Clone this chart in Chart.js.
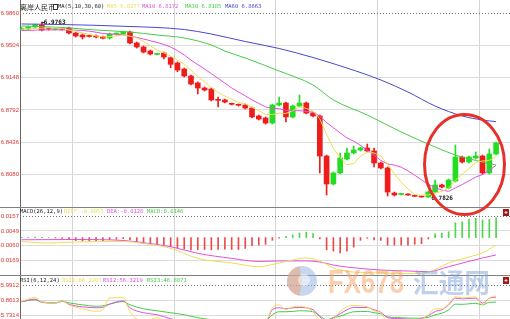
<!DOCTYPE html>
<html><head><meta charset="utf-8">
<script src="https://cdn.jsdelivr.net/npm/chart.js@4/dist/chart.umd.min.js"></script>
<style>html,body{margin:0;padding:0;background:#fff;overflow:hidden}</style>
</head><body>
<canvas id="c" width="510" height="319"></canvas>
<script>
// ---- data ----
const openP  = [6.9682,6.9688,6.9710,6.9732,6.9693,6.9682,6.9688,6.9699,6.9643,6.9621,6.9610,6.9610,6.9602,6.9588,6.9632,6.9632,6.9654,6.9533,6.9489,6.9444,6.9406,6.9422,6.9370,6.9312,6.9245,6.9168,6.9091,6.9035,6.9024,6.8906,6.8903,6.8862,6.8851,6.8847,6.8814,6.8726,6.8704,6.8648,6.8847,6.8869,6.8715,6.8836,6.8869,6.8759,6.8726,6.8283,6.7974,6.8096,6.8250,6.8317,6.8350,6.8372,6.8339,6.8206,6.8151,6.7874,6.7858,6.7863,6.7845,6.7841,6.7830,6.7885,6.7963,6.7930,6.8007,6.8272,6.8217,6.8261,6.8283,6.8096,6.8306];
const highP  = [6.9710,6.9721,6.9743,6.9763,6.9699,6.9693,6.9693,6.9710,6.9649,6.9632,6.9621,6.9621,6.9610,6.9643,6.9643,6.9665,6.9665,6.9544,6.9500,6.9455,6.9417,6.9433,6.9378,6.9323,6.9256,6.9179,6.9102,6.9046,6.9035,6.8936,6.8914,6.8869,6.8858,6.8858,6.8825,6.8737,6.8715,6.8858,6.8936,6.8880,6.8847,6.8958,6.8880,6.8770,6.8737,6.8294,6.8107,6.8317,6.8372,6.8394,6.8383,6.8416,6.8372,6.8217,6.8162,6.7885,6.7869,6.7869,6.7852,6.7847,6.7896,6.8018,6.7974,6.8029,6.8405,6.8283,6.8283,6.8328,6.8294,6.8361,6.8438];
const lowP   = [6.9676,6.9676,6.9699,6.9665,6.9676,6.9676,6.9676,6.9632,6.9599,6.9577,6.9599,6.9588,6.9577,6.9577,6.9621,6.9621,6.9522,6.9477,6.9422,6.9400,6.9400,6.9356,6.9260,6.9215,6.9157,6.9068,6.8969,6.9002,6.8892,6.8825,6.8869,6.8847,6.8836,6.8803,6.8704,6.8681,6.8637,6.8637,6.8836,6.8659,6.8704,6.8825,6.8748,6.8715,6.8096,6.7852,6.7963,6.8084,6.8239,6.8306,6.8339,6.8328,6.8162,6.8140,6.7841,6.7841,6.7852,6.7847,6.7836,6.7828,6.7826,6.7874,6.7930,6.7919,6.7996,6.8206,6.8206,6.8250,6.8084,6.8084,6.8294];
const closeP = [6.9693,6.9710,6.9732,6.9676,6.9688,6.9688,6.9682,6.9643,6.9610,6.9599,6.9605,6.9599,6.9585,6.9632,6.9638,6.9654,6.9533,6.9489,6.9433,6.9411,6.9411,6.9378,6.9297,6.9234,6.9168,6.9079,6.9035,6.9013,6.8903,6.8899,6.8880,6.8855,6.8844,6.8814,6.8715,6.8692,6.8648,6.8847,6.8869,6.8715,6.8836,6.8869,6.8759,6.8726,6.8283,6.7974,6.8096,6.8261,6.8317,6.8350,6.8372,6.8339,6.8206,6.8151,6.7885,6.7852,6.7863,6.7852,6.7838,6.7830,6.7885,6.7963,6.7941,6.8018,6.8272,6.8217,6.8272,6.8283,6.8096,6.8306,6.8427];
const ma5Head  = [6.9685,6.9690,6.9695,6.9697];
const ma10Head = [6.9670,6.9672,6.9675,6.9677,6.9678,6.9678,6.9677,6.9676,6.9674];
const ma30Idx = [0,6,11,16,20,24,28,30,33,38,43,46,51,56,61,64,68,70];
const ma30Val = [6.9721,6.9704,6.9676,6.9654,6.9621,6.9588,6.9511,6.9444,6.9367,6.9223,6.9068,6.8903,6.8737,6.8549,6.8383,6.8294,6.8217,6.8184];
const ma60Idx = [0,6,11,16,20,24,28,33,38,43,48,53,57,61,65,68,70];
const ma60Val = [6.9743,6.9737,6.9728,6.9715,6.9704,6.9682,6.9632,6.9549,6.9472,6.9372,6.9256,6.9124,6.8991,6.8836,6.8726,6.8681,6.8663];
const macdHist = [0.0002,0.0003,0.0004,0.0002,0.0001,-0.0003,-0.0006,-0.0015,-0.0022,-0.0025,-0.0025,-0.0022,-0.0022,-0.0015,-0.0012,-0.0008,-0.0015,-0.0030,-0.0040,-0.0048,-0.0050,-0.0055,-0.0065,-0.0075,-0.0085,-0.0090,-0.0090,-0.0088,-0.0090,-0.0088,-0.0085,-0.0088,-0.0088,-0.0080,-0.0060,-0.0055,-0.0050,-0.0020,-0.0005,0.0010,0.0020,0.0034,0.0040,0.0030,-0.0010,-0.0090,-0.0100,-0.0113,-0.0100,-0.0070,-0.0020,-0.0005,-0.0018,-0.0020,-0.0055,-0.0055,-0.0055,-0.0055,-0.0050,-0.0045,-0.0010,0.0027,0.0034,0.0043,0.0110,0.0117,0.0135,0.0142,0.0130,0.0135,0.0146];
const difIdx = [0,4,8,15,18,22,26,31,35,38,40,42,44,46,49,53,57,60,63,66,68,70];
const difVal = [-0.0030,-0.0040,-0.0032,-0.0029,-0.0043,-0.0079,-0.0153,-0.0187,-0.0214,-0.0187,-0.0165,-0.0150,-0.0172,-0.0224,-0.0254,-0.0261,-0.0265,-0.0254,-0.0187,-0.0143,-0.0113,-0.0055];
const deaIdx = [0,8,15,18,22,26,31,35,38,42,44,46,48,53,57,60,63,68,70];
const deaVal = [-0.0016,-0.0014,-0.0021,-0.0038,-0.0067,-0.0116,-0.0153,-0.0176,-0.0172,-0.0172,-0.0180,-0.0202,-0.0217,-0.0239,-0.0246,-0.0251,-0.0214,-0.0150,-0.0128];
const rsiIdx = [0,2,3,5,6,7,9,11,12,13,15,16,18,20,22,24,26,28,30,33,36,37,38,39,40,41,43,44,45,46,47,48,49,51,52,53,54,56,58,60,61,62,63,64,65,66,67,68,69,70];
const rsi1 = [70.0,73.8,69.5,68.2,70.5,66.5,62.5,60.0,61.5,73.5,73.8,59.5,49.5,53.5,46.5,43.5,44.5,41.5,43.5,45.5,49.5,63.5,66.5,61.5,64.5,65.0,59.5,49.5,41.5,51.5,59.5,64.5,65.8,64.5,60.5,58.5,49.5,49.5,49.5,56.5,62.5,62.5,67.5,74.8,73.5,74.0,74.5,66.5,73.5,75.5];
const rsi2 = [69.5,72.2,69.0,68.2,70.5,67.0,64.5,63.5,64.0,67.2,70.5,63.5,58.5,56.5,52.5,49.5,48.5,46.5,46.5,47.5,49.5,61.5,63.5,62.5,63.5,63.8,61.5,54.5,49.5,53.5,57.5,61.5,63.8,63.8,61.5,59.0,53.5,52.5,51.5,55.5,59.8,61.5,66.5,73.2,72.5,73.0,73.2,68.2,73.2,74.2];
const rsi3 = [69.8,71.5,69.5,68.5,70.0,68.5,66.5,65.0,65.5,67.2,69.8,66.5,62.5,60.5,58.5,56.5,53.5,51.5,49.5,49.5,50.5,56.5,59.5,59.5,59.8,60.5,59.5,55.5,51.5,53.5,55.0,57.5,59.5,59.8,58.5,57.5,54.5,53.5,53.0,53.8,56.5,58.0,61.5,67.2,67.0,67.5,68.0,66.5,69.0,69.2];
const priceTicks = [6.8080,6.8436,6.8792,6.9148,6.9504,6.9860];
const macdTicks  = [-0.0169,-0.0060,0.0049,0.0157];
const rsiTicks   = [55.7314,70.8613,85.9912];
const mainTitle = '离岸人民币';
const maTitle = 'MA(5,10,30,60)';
const maLabels = ['MA5 6.8277','MA10 6.8172','MA30 6.8185','MA60 6.8663'];
const macdTitle = 'MACD(26,12,9)';
const macdLabels = ['DIFF:-0.0055','DEA:-0.0128','MACD:0.0146'];
const rsiTitle = 'RSI(6,12,24)';
const rsiLabels = ['RSI1:66.2207','RSI2:56.3219','RSI3:46.8871'];

// ---- styling ----
const RED='#f01c1c', GREEN='#22dd22';
const C_Y='#eedd55', C_M='#e050e0', C_G='#44cc44', C_B='#4848c8';
const idx = closeP.map((_,i)=>i);
const isUp = i => closeP[i] >= openP[i];
function sma(n, head){ return closeP.map((c,i)=> i < n-1 ? head[i] : closeP.slice(i-n+1,i+1).reduce((a,b)=>a+b,0)/n); }
const ma5 = sma(5, ma5Head), ma10 = sma(10, ma10Head);
const pts = (ix, vals) => ix.map((x,k)=>({x:x, y:vals[k]}));

const lineDs = (label, data, color, axis, smooth) => ({
  type:'line', label, data, yAxisID:axis, borderColor:color, borderWidth:1,
  pointRadius:0, fill:false, order:0, cubicInterpolationMode: smooth ? 'monotone' : 'default', tension:0
});

function fixY(s){ s.width = 20; s.paddingTop = 0; s.paddingBottom = 0; }
const tickFont = {family:'Liberation Sans', size:6};
const gridCol = (top) => (c) => (c.tick && Math.abs(c.tick.value - top) < 1e-9) ? 'rgba(0,0,0,0)' : '#dcdcdc';

const deco = {
  id:'deco',
  afterDraw(chart){
    const ctx = chart.ctx, ca = chart.chartArea;
    const sx = chart.scales.x, sy = chart.scales.y, sm = chart.scales.yMacd, sr = chart.scales.yRsi;
    ctx.save();
    // dotted lines at the top tick of every pane
    ctx.strokeStyle = '#707070'; ctx.lineWidth = 1; ctx.setLineDash([1,2]);
    [[sy, priceTicks[priceTicks.length-1]],[sm, macdTicks[macdTicks.length-1]],[sr, rsiTicks[rsiTicks.length-1]]].forEach(([s,v])=>{
      const yy = Math.round(s.getPixelForValue(v)) + 0.5;
      ctx.beginPath(); ctx.moveTo(ca.left, yy); ctx.lineTo(ca.right, yy); ctx.stroke();
    });
    ctx.setLineDash([]);
    // pane separators
    ctx.strokeStyle = '#808080';
    [sm.top, sr.top].forEach(t=>{ const yy = Math.round(t)+0.5; ctx.beginPath(); ctx.moveTo(0,yy); ctx.lineTo(510,yy); ctx.stroke(); });
    // titles
    ctx.textBaseline = 'middle'; ctx.textAlign = 'left';
    const mono = '5.5px "DejaVu Sans Mono"';
    ctx.fillStyle = '#222'; ctx.font = '7px "Noto Sans CJK SC"';
    ctx.fillText(mainTitle, 20, 7);
    ctx.strokeStyle = '#333'; ctx.strokeRect(53.5, 4.5, 4, 5);
    ctx.font = mono; ctx.fillText(maTitle, 58, 7);
    const maCols = [C_Y, C_M, C_G, C_B], maX = [107,142,185,225];
    maLabels.forEach((t,k)=>{ ctx.fillStyle = maCols[k]; ctx.fillText(t, maX[k], 7); });
    const y1 = (sm.top + sm.getPixelForValue(macdTicks[macdTicks.length-1]))/2;
    ctx.fillStyle = '#222'; ctx.fillText(macdTitle, 20, y1);
    [C_Y, C_M, C_G].forEach((c,k)=>{ ctx.fillStyle = c; ctx.fillText(macdLabels[k], [64,107,147][k], y1); });
    const y2 = (sr.top + sr.getPixelForValue(rsiTicks[rsiTicks.length-1]))/2;
    ctx.fillStyle = '#222'; ctx.fillText(rsiTitle, 20, y2);
    [C_Y, C_M, C_G].forEach((c,k)=>{ ctx.fillStyle = c; ctx.fillText(rsiLabels[k], [62,103,147][k], y2); });
    // high / low markers
    let hi = 0, lo = 0;
    highP.forEach((v,i)=>{ if (v > highP[hi]) hi = i; });
    lowP.forEach((v,i)=>{ if (v < lowP[lo]) lo = i; });
    ctx.font = 'bold 6px "DejaVu Sans Mono"'; ctx.fillStyle = '#111'; ctx.strokeStyle = '#111';
    let hx = sx.getPixelForValue(hi), hy = sy.getPixelForValue(highP[hi]);
    ctx.beginPath(); ctx.moveTo(hx, hy+0.5); ctx.lineTo(hx+3, hy+0.5); ctx.stroke();
    ctx.fillText(highP[hi].toFixed(4), hx+2, hy);
    let lx = sx.getPixelForValue(lo), ly = sy.getPixelForValue(lowP[lo]);
    ctx.fillText(lowP[lo].toFixed(4), lx+3, ly+1);
    // red ellipse annotation
    const el = sx.getPixelForValue(59.44), er = sx.getPixelForValue(71.24);
    const et = sy.getPixelForValue(6.8742), eb = sy.getPixelForValue(6.7637);
    ctx.strokeStyle = '#e8302a'; ctx.lineWidth = 3;
    ctx.beginPath(); ctx.ellipse((el+er)/2, (et+eb)/2, (er-el)/2, (eb-et)/2, 0, 0, Math.PI*2); ctx.stroke();
    // small icons at the right
    [sm.top+2, sr.top+2].forEach(t=>{
      ctx.fillStyle = '#a01818'; ctx.fillRect(503, t, 6, 7);
      ctx.fillStyle = '#ffd0d0'; ctx.fillRect(505.5, t+2, 1, 3); ctx.fillRect(504.5, t+3, 3, 1);
    });
    // watermark
    ctx.globalAlpha = 0.5;
    ctx.fillStyle = '#8fb0e0'; ctx.beginPath(); ctx.arc(302, 281, 15, 0, Math.PI*2); ctx.fill();
    ctx.fillStyle = '#f3a070'; ctx.beginPath(); ctx.arc(302, 281, 15, Math.PI*0.55, Math.PI*1.45); ctx.lineTo(302,281); ctx.fill();
    ctx.fillStyle = '#ffffff'; ctx.beginPath(); ctx.arc(304, 280, 6, 0, Math.PI*2); ctx.fill();
    ctx.font = 'bold 34px "Liberation Sans"';
    ctx.textBaseline = 'alphabetic';
    const fxW = ctx.measureText('FX678').width;
    ctx.save(); ctx.translate(328, 293); ctx.scale(76/fxW, 1);
    ctx.fillStyle = '#f4a060'; ctx.fillText('FX678', 0, 0); ctx.restore();
    ctx.font = 'bold 27px "Noto Sans CJK SC"';
    const hW = ctx.measureText('汇通网').width;
    ctx.save(); ctx.translate(413, 293); ctx.scale(77/hW, 1);
    ctx.fillStyle = '#7fa2da'; ctx.fillText('汇通网', 0, 0); ctx.restore();
    ctx.restore();
  }
};

new Chart(document.getElementById('c'), {
  type:'bar',
  data:{ datasets:[
    lineDs('MA5', idx.map(i=>({x:i,y:ma5[i]})), C_Y, 'y', false),
    lineDs('MA10', idx.map(i=>({x:i,y:ma10[i]})), C_M, 'y', false),
    lineDs('MA30', pts(ma30Idx, ma30Val), C_G, 'y', true),
    lineDs('MA60', pts(ma60Idx, ma60Val), C_B, 'y', true),
    {type:'bar', label:'wick', data: idx.map(i=>({x:i, y:[lowP[i], highP[i]]})), yAxisID:'y', barThickness:1, grouped:false, order:2,
      backgroundColor: c => isUp(c.dataIndex) ? GREEN : RED, borderWidth:0},
    {type:'bar', label:'body', data: idx.map(i=>({x:i, y:[openP[i], closeP[i]]})), yAxisID:'y', barThickness:5, grouped:false, order:1, minBarLength:1,
      backgroundColor: c => isUp(c.dataIndex) ? GREEN : RED, borderWidth:0},
    {type:'bar', label:'MACD', data: idx.map(i=>({x:i, y:macdHist[i]})), yAxisID:'yMacd', barThickness:1, grouped:false, order:3,
      backgroundColor: c => macdHist[c.dataIndex] >= 0 ? '#4ad84a' : '#ee4a4a', borderWidth:0},
    lineDs('DIFF', pts(difIdx, difVal), C_Y, 'yMacd', true),
    lineDs('DEA', pts(deaIdx, deaVal), C_M, 'yMacd', true),
    lineDs('RSI1', pts(rsiIdx, rsi1), C_Y, 'yRsi', true),
    lineDs('RSI2', pts(rsiIdx, rsi2), C_M, 'yRsi', true),
    lineDs('RSI3', pts(rsiIdx, rsi3), C_G, 'yRsi', true)
  ]},
  options:{
    responsive:false, animation:false, devicePixelRatio:1,
    layout:{padding:0},
    plugins:{legend:{display:false}, tooltip:{enabled:false}},
    scales:{
      x:{ type:'linear', min:-0.221, max:72.05, offset:false,
          afterBuildTicks: s => { s.ticks = [15,30,45,60].map(v=>({value:v})); },
          afterFit: s => { s.height = 0; s.paddingLeft = 0; s.paddingRight = 0; },
          ticks:{display:false}, border:{display:false},
          grid:{color:'#d4d4d4', drawTicks:false} },
      y:{ type:'linear', position:'left', stack:'panes', stackWeight:207, weight:3,
          min:6.77196, max:7.00081,
          afterBuildTicks: s => { s.ticks = priceTicks.map(v=>({value:v})); },
          afterFit: fixY,
          ticks:{autoSkip:false, padding:1, color:'#e03232', font:tickFont, callback:v=>v.toFixed(4)},
          grid:{drawTicks:false, color:gridCol(priceTicks[priceTicks.length-1])},
          border:{display:true, color:'#666'} },
      yMacd:{ type:'linear', position:'left', stack:'panes', stackWeight:68, weight:2,
          min:-0.027564, max:0.022552,
          afterBuildTicks: s => { s.ticks = macdTicks.map(v=>({value:v})); },
          afterFit: fixY,
          ticks:{autoSkip:false, padding:1, color:'#e03232', font:tickFont, callback:v=>v.toFixed(4)},
          grid:{drawTicks:false, color:gridCol(macdTicks[macdTicks.length-1])},
          border:{display:true, color:'#666'} },
      yRsi:{ type:'linear', position:'left', stack:'panes', stackWeight:44, weight:1,
          min:52.20, max:96.58,
          afterBuildTicks: s => { s.ticks = rsiTicks.map(v=>({value:v})); },
          afterFit: fixY,
          ticks:{autoSkip:false, padding:1, color:'#e03232', font:tickFont, callback:v=>v.toFixed(4)},
          grid:{drawTicks:false, color:gridCol(rsiTicks[rsiTicks.length-1])},
          border:{display:true, color:'#666'} }
    }
  },
  plugins:[deco]
});
</script>
</body></html>
